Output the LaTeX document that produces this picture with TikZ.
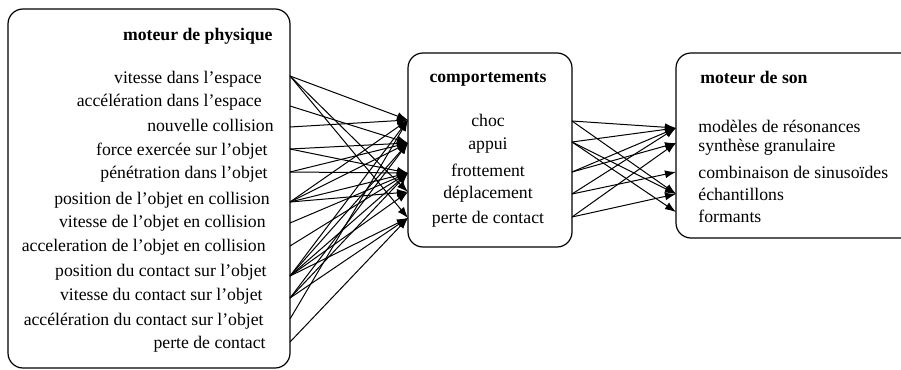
\documentclass[tikz,border=0pt]{standalone}
\usepackage{fontspec}
\setmainfont{Liberation Serif}
\usetikzlibrary{arrows.meta}
\begin{document}
\begin{tikzpicture}[x=0.5pt,y=-0.5pt,
  box/.style={draw=black,line width=0.6pt,rounded corners=7.5pt},
  lbl/.style={inner sep=0pt,font=\fontsize{8.85}{10}\selectfont},
  ttl/.style={inner sep=0pt,font=\fontsize{8.85}{10}\selectfont\bfseries},
  link/.style={line width=0.5pt,-{Latex[length=5.5pt,width=4pt]}}]
\useasboundingbox (0,0) rectangle (901,370);
\begin{scope}
\clip (0,0) rectangle (901,370);
% boxes
\draw[box] (8,9) rectangle (290,368);
\draw[box] (408,53) rectangle (572,247);
\draw[box] (676,53) rectangle (915,238);
\end{scope}
% moteur de physique
\node[ttl,anchor=base east] (tp) at (273,40) {moteur de physique};
\node[lbl,anchor=base east] (l1) at (262,83) {vitesse dans l’espace};
\node[lbl,anchor=base east] (l2) at (262,106.7) {accélération dans l’espace};
\node[lbl,anchor=base east] (l3) at (274,131.7) {nouvelle collision};
\node[lbl,anchor=base east] (l4) at (268,155) {force exercée sur l’objet};
\node[lbl,anchor=base east] (l5) at (268,178) {pénétration dans l’objet};
\node[lbl,anchor=base east] (l6) at (270,204) {position de l’objet en collision};
\node[lbl,anchor=base east] (l7) at (266,227) {vitesse de l’objet en collision};
\node[lbl,anchor=base east] (l8) at (266,251.7) {acceleration de l’objet en collision};
\node[lbl,anchor=base east] (l9) at (267,276.7) {position du contact sur l’objet};
\node[lbl,anchor=base east] (l10) at (263,300) {vitesse du contact sur l’objet};
\node[lbl,anchor=base east] (l11) at (264,325) {accélération du contact sur l’objet};
\node[lbl,anchor=base east] (l12) at (266,348) {perte de contact};
% comportements
\node[ttl,anchor=base] (tc) at (488,82) {comportements};
\node[lbl,anchor=base] (b1) at (488,126) {choc};
\node[lbl,anchor=base] (b2) at (488,149) {appui};
\node[lbl,anchor=base] (b3) at (488,176) {frottement};
\node[lbl,anchor=base] (b4) at (488,198) {déplacement};
\node[lbl,anchor=base] (b5) at (488,223) {perte de contact};
% moteur de son
\node[ttl,anchor=base west] (ts) at (700,83) {moteur de son};
\node[lbl,anchor=base west] (s1) at (698,132) {modèles de résonances};
\node[lbl,anchor=base west] (s2) at (698,151) {synthèse granulaire};
\node[lbl,anchor=base west] (s3) at (698,178) {combinaison de sinusoïdes};
\node[lbl,anchor=base west] (s4) at (698,200) {échantillons};
\node[lbl,anchor=base west] (s5) at (698,222) {formants};
% ports
\coordinate (p1) at (290,76);
\coordinate (p2) at (290,106);
\coordinate (p3) at (290,127);
\coordinate (p4) at (290,149);
\coordinate (p5) at (290,172);
\coordinate (p6) at (290,202);
\coordinate (p7) at (290,223);
\coordinate (p8) at (290,246);
\coordinate (p9) at (290,276);
\coordinate (p10) at (290,298);
\coordinate (p11) at (290,319);
\coordinate (p12) at (290,342);
\coordinate (c1) at (408,120);
\coordinate (c2) at (408,143);
\coordinate (c3) at (408,173);
\coordinate (c4) at (408,192);
\coordinate (c5) at (408,218);
\coordinate (k1) at (572,121);
\coordinate (k2) at (572,142);
\coordinate (k3) at (572,172);
\coordinate (k4) at (572,194);
\coordinate (k5) at (572,217);
\coordinate (m1) at (676,128);
\coordinate (m2) at (676,143);
\coordinate (m3) at (676,172);
\coordinate (m4) at (676,194);
\coordinate (m5) at (676,212);
% physique -> comportements
\foreach \a/\b in {p1/c1,p1/c4,p1/c5,p2/c2,p3/c1,p4/c2,p4/c3,p5/c2,p5/c3,
  p6/c1,p6/c2,p6/c3,p6/c4,p7/c3,p8/c3,p9/c1,p9/c2,p9/c3,p9/c4,p9/c5,
  p10/c2,p10/c3,p10/c5,p11/c1,p12/c5}
  \draw[link] (\a) -- (\b);
% comportements -> son
\foreach \a/\b in {k1/m1,k1/m4,k2/m1,k2/m4,k2/m5,k3/m1,k3/m2,k4/m1,k4/m3,k5/m2,k5/m4}
  \draw[link] (\a) -- (\b);
\end{tikzpicture}
\end{document}
